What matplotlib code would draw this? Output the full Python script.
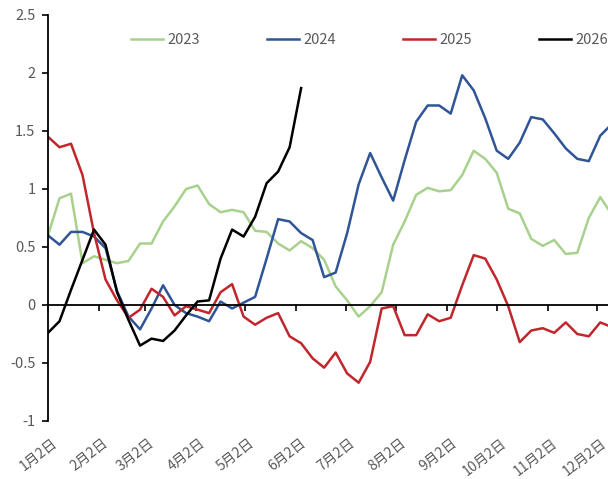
import numpy as np
import matplotlib.pyplot as plt

plt.rcParams['font.family'] = ['Noto Sans CJK SC', 'DejaVu Sans']
plt.rcParams['axes.unicode_minus'] = False

# weekly data, x = days after 1月2日
y2023 = [0.60, 0.92, 0.96, 0.36, 0.42, 0.39, 0.36, 0.38, 0.53, 0.53,
         0.72, 0.85, 1.00, 1.03, 0.87, 0.80, 0.82, 0.80, 0.64, 0.63,
         0.53, 0.47, 0.55, 0.49, 0.39, 0.16, 0.04, -0.10, -0.01, 0.11,
         0.52, 0.72, 0.95, 1.01, 0.98, 0.99, 1.12, 1.33, 1.26, 1.14,
         0.83, 0.79, 0.57, 0.51, 0.56, 0.44, 0.45, 0.75, 0.93, 0.78]
y2024 = [0.60, 0.52, 0.63, 0.63, 0.59, 0.49, 0.12, -0.10, -0.21, -0.03,
         0.17, 0.00, -0.07, -0.10, -0.14, 0.03, -0.03, 0.02, 0.07, 0.40,
         0.74, 0.72, 0.62, 0.56, 0.24, 0.28, 0.62, 1.04, 1.31, 1.10,
         0.90, 1.25, 1.58, 1.72, 1.72, 1.65, 1.98, 1.85, 1.61, 1.33,
         1.26, 1.40, 1.62, 1.60, 1.48, 1.35, 1.26, 1.24, 1.46, 1.56]
y2025 = [1.45, 1.36, 1.39, 1.12, 0.62, 0.22, 0.04, -0.11, -0.04, 0.14,
         0.07, -0.09, -0.01, -0.04, -0.07, 0.11, 0.18, -0.10, -0.17, -0.11,
         -0.07, -0.27, -0.33, -0.46, -0.54, -0.41, -0.59, -0.67, -0.49, -0.03,
         -0.01, -0.26, -0.26, -0.08, -0.14, -0.11, 0.17, 0.43, 0.40, 0.22,
         -0.01, -0.32, -0.22, -0.20, -0.24, -0.15, -0.25, -0.27, -0.15, -0.19]
y2026 = [-0.24, -0.14, 0.13, 0.39, 0.65, 0.52, 0.11, -0.13, -0.35, -0.29,
         -0.31, -0.22, -0.09, 0.03, 0.04, 0.40, 0.65, 0.59, 0.76, 1.05,
         1.15, 1.36, 1.87]

tick_days = [0, 31, 59, 90, 120, 151, 181, 212, 243, 273, 304, 334]
tick_labels = ["1月2日", "2月2日", "3月2日", "4月2日", "5月2日", "6月2日",
               "7月2日", "8月2日", "9月2日", "10月2日", "11月2日", "12月2日"]
ytick_vals = [-1, -0.5, 0, 0.5, 1, 1.5, 2, 2.5]
ytick_labels = ["-1", "-0.5", "0", "0.5", "1", "1.5", "2", "2.5"]

series = [("2023", y2023, "#A9D18E"), ("2024", y2024, "#2F5597"),
          ("2025", y2025, "#C0272D"), ("2026", y2026, "#000000")]

fig = plt.figure(figsize=(6.08, 4.79), dpi=100)
ax = fig.add_axes([48 / 608, 58 / 479, 560 / 608, 406 / 479])

for name, vals, col in series:
    x = np.arange(len(vals)) * 7
    ax.plot(x, vals, color=col, lw=1.8, label=name)

ax.set_xlim(0, 340.7)
ax.set_ylim(-1, 2.5)

ax.spines['top'].set_visible(False)
ax.spines['right'].set_visible(False)
ax.spines['bottom'].set_position(('data', 0))
ax.spines['bottom'].set_linewidth(1.3)
ax.spines['left'].set_linewidth(1.3)

ax.set_xticks(tick_days)
ax.set_xticklabels([])
ax.tick_params(axis='x', direction='out', length=4, width=1.2)
ax.set_yticks(ytick_vals)
ax.set_yticklabels(ytick_labels)
ax.tick_params(axis='y', direction='out', length=4, width=1.2, pad=5,
               labelsize=10.5, labelcolor='#595959')

for d, lab in zip(tick_days, tick_labels):
    ax.annotate(lab, xy=(d, -1), xycoords='data', xytext=(2.5, -11),
                textcoords='offset points', rotation=38, ha='right', va='top',
                rotation_mode='anchor', fontsize=10, color='#595959',
                annotation_clip=False)

fig.legend(loc='center', bbox_to_anchor=(0.608, 0.9165), ncol=4, frameon=False,
           handlelength=2.2, handletextpad=0.3, columnspacing=4.6,
           fontsize=10.5, labelcolor='#595959')

fig.savefig("out.png", dpi=100)
